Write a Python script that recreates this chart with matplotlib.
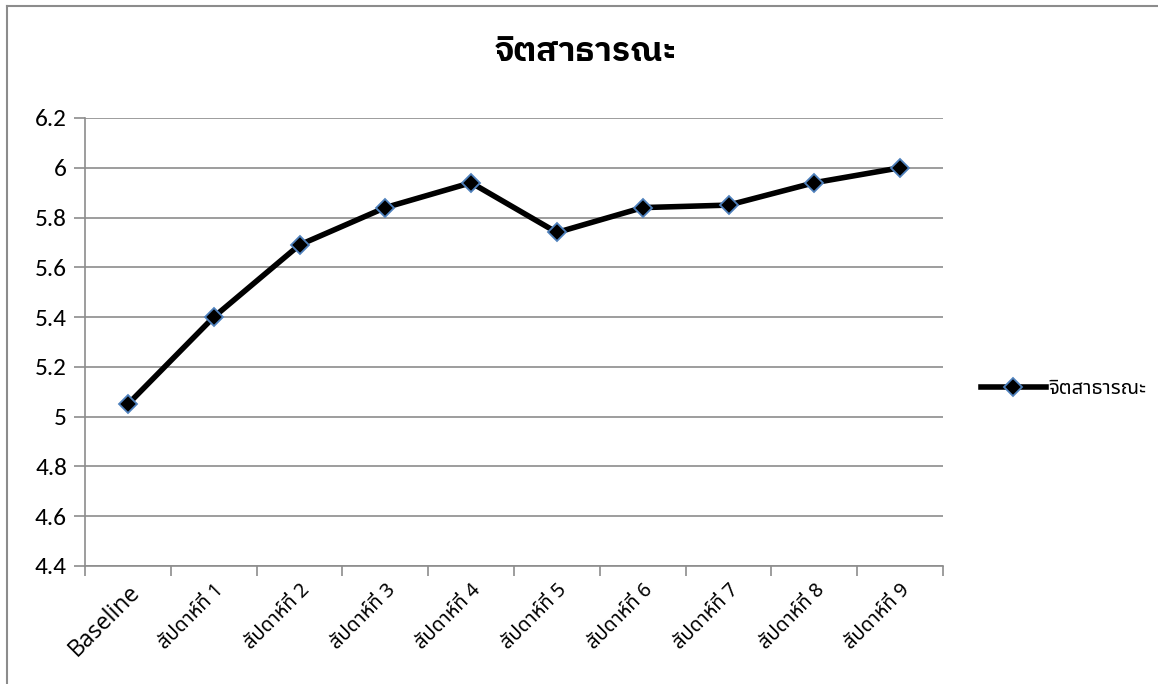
import matplotlib
matplotlib.use("Agg")
import matplotlib.pyplot as plt
from matplotlib import font_manager
from matplotlib.lines import Line2D

# ---------------- data ----------------
categories = ["Baseline", "สัปดาห์ที่ 1", "สัปดาห์ที่ 2", "สัปดาห์ที่ 3", "สัปดาห์ที่ 4",
              "สัปดาห์ที่ 5", "สัปดาห์ที่ 6", "สัปดาห์ที่ 7", "สัปดาห์ที่ 8", "สัปดาห์ที่ 9"]
values = [5.05, 5.40, 5.69, 5.84, 5.94, 5.74, 5.84, 5.85, 5.94, 6.00]
series_name = "จิตสาธารณะ"
title = "จิตสาธารณะ"
yticks = [4.4, 4.6, 4.8, 5.0, 5.2, 5.4, 5.6, 5.8, 6.0, 6.2]
ytick_labels = ["4.4", "4.6", "4.8", "5", "5.2", "5.4", "5.6", "5.8", "6", "6.2"]

available = set(f.name for f in font_manager.fontManager.ttflist)
def pick(*names):
    return [n for n in names if n in available] + ["DejaVu Sans"]

thai_fams = pick("Noto Sans Thai", "Noto Sans Thai UI", "IBM Plex Sans Thai", "Loma")
title_fams = pick("IBM Plex Sans Thai", "Noto Sans Thai", "Loma")
latin_fams = pick("Open Sans", "Noto Sans", "Liberation Sans")
num_fams = pick("Carlito", "Liberation Sans")
plt.rcParams['font.family'] = latin_fams

W, H = 1158, 684
fig = plt.figure(figsize=(W / 100, H / 100), dpi=100)
fig.patch.set_facecolor("white")
renderer = fig.canvas.get_renderer()

def fit_size(text, fams, target_w, base=12, weight="normal"):
    t = fig.text(0, 0, text, fontsize=base, family=fams, fontweight=weight)
    w = t.get_window_extent(renderer).width
    t.remove()
    return base * target_w / w if w > 0 else base

GRAY = "#8c8c8c"
# outer chart border (left and top visible; right/bottom lie beyond picture)
fig.add_artist(Line2D([7.5 / W, 7.5 / W], [0, 1 - 6 / H], transform=fig.transFigure,
                      color=GRAY, linewidth=1.5))
fig.add_artist(Line2D([7.5 / W, 1], [1 - 6 / H, 1 - 6 / H], transform=fig.transFigure,
                      color=GRAY, linewidth=1.5))

left, right, top, bottom = 85, 943, 118, 566
ax = fig.add_axes([left / W, 1 - bottom / H, (right - left) / W, (bottom - top) / H])

x = list(range(len(categories)))
ax.plot(x, values, color="black", linewidth=4, marker="D", markersize=9,
        markerfacecolor="black", markeredgecolor="#4F81BD", markeredgewidth=1.3,
        solid_joinstyle="round", zorder=3, label=series_name)

ax.set_xlim(-0.5, len(categories) - 0.5)
ax.set_ylim(4.4, 6.2)
ax.set_yticks(yticks)
num_size = fit_size("6.2", num_fams, 32)
ax.set_yticklabels(ytick_labels, fontsize=num_size, family=num_fams)
ax.grid(axis="y", color=GRAY, linewidth=1.2)
ax.set_axisbelow(True)

# x ticks at category boundaries, labels at centres
ax.set_xticks([i - 0.5 for i in range(len(categories) + 1)])
ax.set_xticklabels([])
ax.set_xticks(x, minor=True)
ax.tick_params(axis="x", which="major", length=7, color=GRAY, width=1.2, direction="out")
ax.tick_params(axis="x", which="minor", length=0, pad=10)
ax.tick_params(axis="y", length=8, color=GRAY, width=1.2, pad=5)
ax.set_xticklabels(categories, minor=True)
base_size = fit_size(categories[0], latin_fams, 90)
thai_size = fit_size(categories[1], thai_fams, 84)
for i, lab in enumerate(ax.get_xticklabels(minor=True)):
    lab.set_rotation(45)
    lab.set_rotation_mode("anchor")
    lab.set_ha("right")
    lab.set_va("top")
    if i == 0:
        lab.set_fontsize(base_size)
        lab.set_family(latin_fams)
    else:
        lab.set_fontsize(thai_size)
        lab.set_family(thai_fams)

for s in ["top", "right"]:
    ax.spines[s].set_visible(False)
for s in ["left", "bottom"]:
    ax.spines[s].set_color(GRAY)
    ax.spines[s].set_linewidth(1.2)

title_size = fit_size(title, title_fams, 182, weight="bold")
fig.text(586 / W, 1 - 52 / H, title, ha="center", va="center", fontsize=title_size,
         fontweight="bold", family=title_fams)

# legend
leg_size = fit_size(series_name, thai_fams, 98)
handle = Line2D([], [], color="black", linewidth=4, marker="D", markersize=9,
                markerfacecolor="black", markeredgecolor="#4F81BD", markeredgewidth=1.3)
leg = fig.legend([handle], [series_name], loc="center left",
                 bbox_to_anchor=(975 / W, 1 - 389 / H), frameon=False,
                 prop={"family": thai_fams, "size": leg_size}, handlelength=3.2,
                 handletextpad=0.15, borderaxespad=0, borderpad=0.3)

fig.savefig("out.png", dpi=100)
